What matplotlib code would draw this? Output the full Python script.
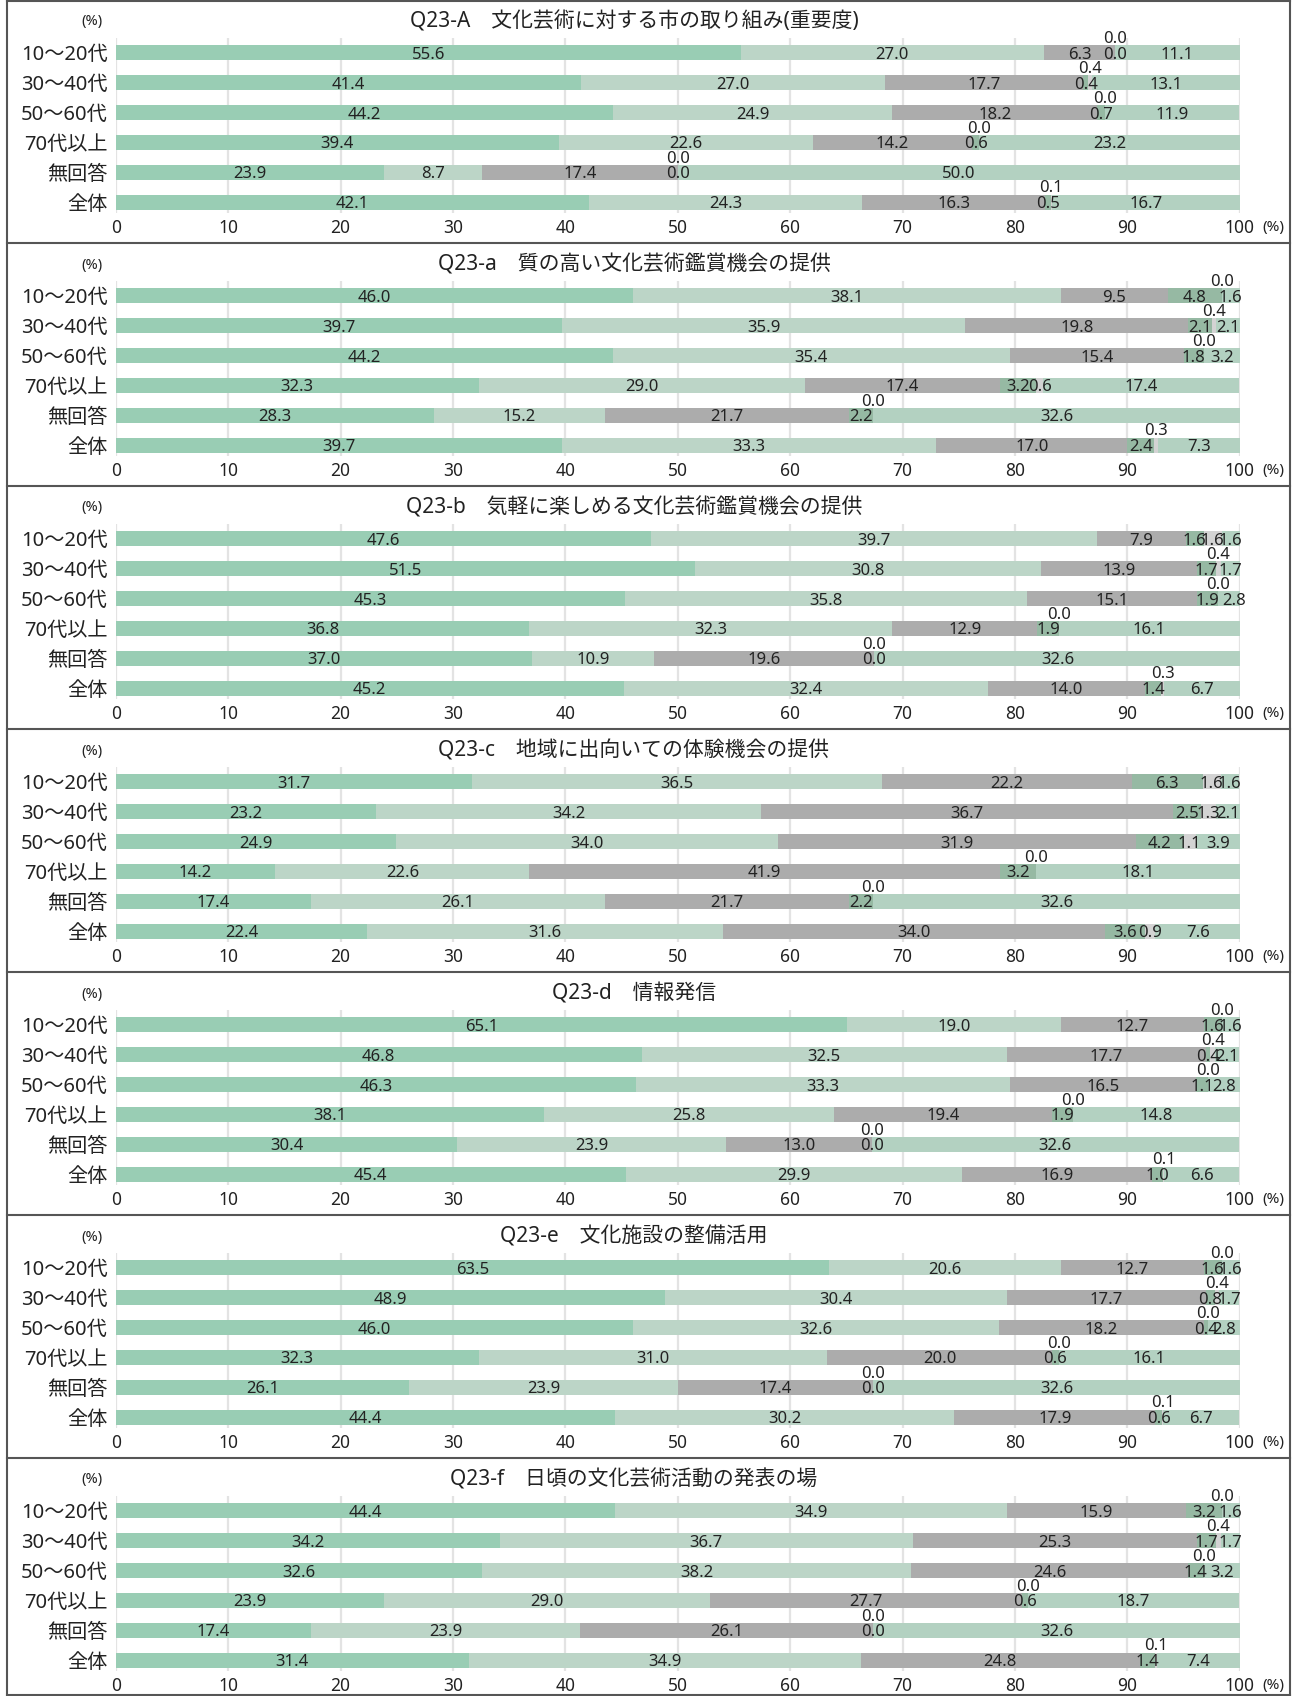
import numpy as np
import matplotlib
matplotlib.use("Agg")
import matplotlib.pyplot as plt
from matplotlib.lines import Line2D

plt.rcParams['font.family'] = ['Noto Sans', 'Noto Sans CJK JP', 'DejaVu Sans']

# age groups (rows, top to bottom)
groups = ["10〜20代", "30〜40代", "50〜60代", "70代以上", "無回答", "全体"]
ticks = [0, 10, 20, 30, 40, 50, 60, 70, 80, 90, 100]

titles = [
    "Q23-A　文化芸術に対する市の取り組み(重要度)",
    "Q23-a　質の高い文化芸術鑑賞機会の提供",
    "Q23-b　気軽に楽しめる文化芸術鑑賞機会の提供",
    "Q23-c　地域に出向いての体験機会の提供",
    "Q23-d　情報発信",
    "Q23-e　文化施設の整備活用",
    "Q23-f　日頃の文化芸術活動の発表の場",
]

# six answer categories per row, in %
q23_A = [[55.6, 27.0, 6.3, 0.0, 0.0, 11.1],
         [41.4, 27.0, 17.7, 0.4, 0.4, 13.1],
         [44.2, 24.9, 18.2, 0.7, 0.0, 11.9],
         [39.4, 22.6, 14.2, 0.6, 0.0, 23.2],
         [23.9, 8.7, 17.4, 0.0, 0.0, 50.0],
         [42.1, 24.3, 16.3, 0.5, 0.1, 16.7]]
q23_a = [[46.0, 38.1, 9.5, 4.8, 0.0, 1.6],
         [39.7, 35.9, 19.8, 2.1, 0.4, 2.1],
         [44.2, 35.4, 15.4, 1.8, 0.0, 3.2],
         [32.3, 29.0, 17.4, 3.2, 0.6, 17.4],
         [28.3, 15.2, 21.7, 2.2, 0.0, 32.6],
         [39.7, 33.3, 17.0, 2.4, 0.3, 7.3]]
q23_b = [[47.6, 39.7, 7.9, 1.6, 1.6, 1.6],
         [51.5, 30.8, 13.9, 1.7, 0.4, 1.7],
         [45.3, 35.8, 15.1, 1.9, 0.0, 2.8],
         [36.8, 32.3, 12.9, 1.9, 0.0, 16.1],
         [37.0, 10.9, 19.6, 0.0, 0.0, 32.6],
         [45.2, 32.4, 14.0, 1.4, 0.3, 6.7]]
q23_c = [[31.7, 36.5, 22.2, 6.3, 1.6, 1.6],
         [23.2, 34.2, 36.7, 2.5, 1.3, 2.1],
         [24.9, 34.0, 31.9, 4.2, 1.1, 3.9],
         [14.2, 22.6, 41.9, 3.2, 0.0, 18.1],
         [17.4, 26.1, 21.7, 2.2, 0.0, 32.6],
         [22.4, 31.6, 34.0, 3.6, 0.9, 7.6]]
q23_d = [[65.1, 19.0, 12.7, 1.6, 0.0, 1.6],
         [46.8, 32.5, 17.7, 0.4, 0.4, 2.1],
         [46.3, 33.3, 16.5, 1.1, 0.0, 2.8],
         [38.1, 25.8, 19.4, 1.9, 0.0, 14.8],
         [30.4, 23.9, 13.0, 0.0, 0.0, 32.6],
         [45.4, 29.9, 16.9, 1.0, 0.1, 6.6]]
q23_e = [[63.5, 20.6, 12.7, 1.6, 0.0, 1.6],
         [48.9, 30.4, 17.7, 0.8, 0.4, 1.7],
         [46.0, 32.6, 18.2, 0.4, 0.0, 2.8],
         [32.3, 31.0, 20.0, 0.6, 0.0, 16.1],
         [26.1, 23.9, 17.4, 0.0, 0.0, 32.6],
         [44.4, 30.2, 17.9, 0.6, 0.1, 6.7]]
q23_f = [[44.4, 34.9, 15.9, 3.2, 0.0, 1.6],
         [34.2, 36.7, 25.3, 1.7, 0.4, 1.7],
         [32.6, 38.2, 24.6, 1.4, 0.0, 3.2],
         [23.9, 29.0, 27.7, 0.6, 0.0, 18.7],
         [17.4, 23.9, 26.1, 0.0, 0.0, 32.6],
         [31.4, 34.9, 24.8, 1.4, 0.1, 7.4]]
panels = [q23_A, q23_a, q23_b, q23_c, q23_d, q23_e, q23_f]

colors = ["#99cdb4", "#bcd5c7", "#acacac", "#96b9a3", "#d3d3d3", "#b3d1c1"]

W, H = 1297, 1696
fig = plt.figure(figsize=(W / 100, H / 100), dpi=100)


def fx(px):
    return px / W


def fy(px):
    return 1 - px / H


x0, x1 = 115.7, 1239.7
panel_h = 243
txt = "#222222"

for i, (title, data) in enumerate(zip(titles, panels)):
    top = i * panel_h
    ax = fig.add_axes([fx(x0), fy(top + 213), (x1 - x0) / W, (213 - 38) / H])
    data = np.array(data)
    y = np.arange(len(groups))
    lefts = np.zeros(len(groups))
    for k in range(data.shape[1]):
        vals = data[:, k]
        ax.barh(y, vals, left=lefts, height=0.5, color=colors[k], zorder=2)
        for r, v in enumerate(vals):
            cx = lefts[r] + v / 2
            if k == 4 and v < 0.5:
                # tiny category labelled above the bar
                ax.text(cx, r - 0.47, f"{v:.1f}", ha="center", va="center",
                        fontsize=12, color=txt, zorder=3)
            else:
                ax.text(cx, r + 0.06, f"{v:.1f}", ha="center", va="center",
                        fontsize=12, color=txt, zorder=3)
        lefts = lefts + vals

    ax.set_xlim(0, 100)
    ax.set_ylim(5.35, -0.5)
    ax.set_yticks(y)
    ax.set_yticklabels(groups, fontsize=14.5, color=txt)
    ax.set_xticks(ticks)
    ax.set_xticklabels([str(t) for t in ticks], fontsize=12.5, color=txt)
    ax.tick_params(length=0, pad=6)
    ax.tick_params(axis="x", pad=4)
    for s in ax.spines.values():
        s.set_visible(False)
    for t in ticks:
        ax.axvline(t, color="#e3e3e3", lw=1.6, zorder=1)
    ax.text(1.02, -0.083, "(%)", transform=ax.transAxes, ha="left", va="center",
            fontsize=11, color=txt)

    fig.text(fx(634), fy(top + 22), title, ha="center", va="center",
             fontsize=15, color=txt)
    fig.text(fx(92), fy(top + 22), "(%)", ha="center", va="center",
             fontsize=10.5, color=txt)

# panel frames
bx0, bx1 = fx(6.5), fx(1290)
edges = [fy(1)] + [fy(i * panel_h) for i in range(1, len(panels))] + [fy(1695)]
for e in edges:
    fig.add_artist(Line2D([bx0, bx1], [e, e], color="#555555", lw=1.5))
fig.add_artist(Line2D([bx0, bx0], [edges[0], edges[-1]], color="#555555", lw=1.5))
fig.add_artist(Line2D([bx1, bx1], [edges[0], edges[-1]], color="#555555", lw=1.5))

fig.savefig("out.png", dpi=100)
